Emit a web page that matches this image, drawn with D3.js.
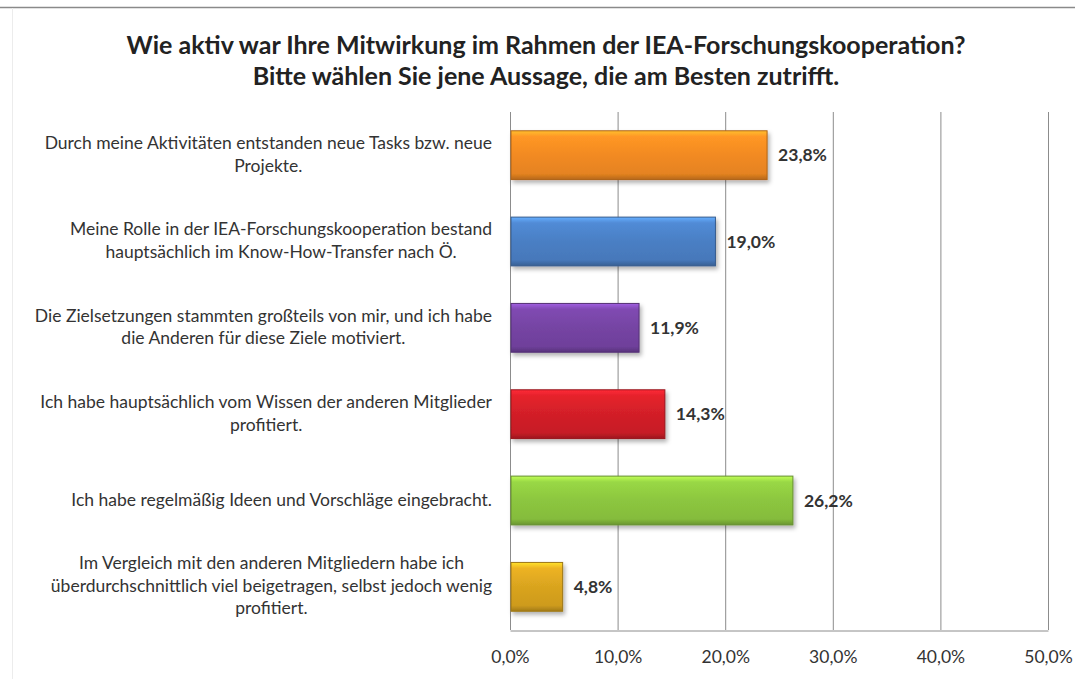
<!DOCTYPE html>
<html>
<head>
<meta charset="utf-8">
<script src="https://cdn.jsdelivr.net/npm/d3@7"></script>
<style>
  body { margin: 0; background: #fff; }
  text { font-family: Lato, "Open Sans", sans-serif; }
</style>
</head>
<body>
<div id="chart"></div>
<script>
const titleLines = [
  "Wie aktiv war Ihre Mitwirkung im Rahmen der IEA-Forschungskooperation?",
  "Bitte wählen Sie jene Aussage, die am Besten zutrifft."
];
const categories = [
  ["Durch meine Aktivitäten entstanden neue Tasks bzw. neue", "Projekte."],
  ["Meine Rolle in der IEA-Forschungskooperation bestand", "hauptsächlich im Know-How-Transfer nach Ö."],
  ["Die Zielsetzungen stammten großteils von mir, und ich habe", "die Anderen für diese Ziele motiviert."],
  ["Ich habe hauptsächlich vom Wissen der anderen Mitglieder", "profitiert."],
  ["Ich habe regelmäßig Ideen und Vorschläge eingebracht."],
  ["Im Vergleich mit den anderen Mitgliedern habe ich", "überdurchschnittlich viel beigetragen, selbst jedoch wenig", "profitiert."]
];
const values = [23.8, 19.0, 11.9, 14.3, 26.2, 4.8];
const colors = ["#f28a22", "#4a7fc4", "#7544a3", "#d21f28", "#8cc63f", "#d9a41f"];
const ticks = [0, 10, 20, 30, 40, 50];

const width = 1075, height = 679;
const margin = { top: 112, right: 27, bottom: 49, left: 510 };

const svg = d3.select("#chart").append("svg")
  .attr("width", width).attr("height", height);

const defs = svg.append("defs");
colors.forEach((c, i) => {
  const g = defs.append("linearGradient").attr("id", "grad" + i)
    .attr("x1", 0).attr("y1", 0).attr("x2", 0).attr("y2", 1);
  const base = d3.color(c);
  g.append("stop").attr("offset", "0%").attr("stop-color", base.brighter(0.9));
  g.append("stop").attr("offset", "12%").attr("stop-color", base.brighter(0.25));
  g.append("stop").attr("offset", "50%").attr("stop-color", base);
  g.append("stop").attr("offset", "88%").attr("stop-color", base.darker(0.15));
  g.append("stop").attr("offset", "100%").attr("stop-color", base.darker(0.8));
});
const shadow = defs.append("filter").attr("id", "shadow")
  .attr("x", "-10%").attr("y", "-20%").attr("width", "130%").attr("height", "160%");
shadow.append("feDropShadow").attr("dx", 2).attr("dy", 3).attr("stdDeviation", 2)
  .attr("flood-color", "#000").attr("flood-opacity", 0.3);

// top border and faint left edge
svg.append("line").attr("x1", 0).attr("x2", width).attr("y1", 7.5).attr("y2", 7.5)
  .attr("stroke", "#8a8a8a").attr("stroke-width", 1.5);
svg.append("line").attr("x1", 12.5).attr("x2", 12.5).attr("y1", 8).attr("y2", height)
  .attr("stroke", "#ececec").attr("stroke-width", 1);

// title
svg.append("g").selectAll("text").data(titleLines).join("text")
  .attr("x", 546).attr("y", (d, i) => 54 + i * 31)
  .attr("text-anchor", "middle")
  .attr("font-size", 25).attr("font-weight", "bold").attr("fill", "#222")
  .text(d => d);

const x = d3.scaleLinear().domain([0, 50]).range([margin.left, width - margin.right]);
const y = d3.scaleBand().domain(d3.range(categories.length))
  .range([margin.top, height - margin.bottom]).paddingInner(0.435).paddingOuter(0.2175);

// gridlines
svg.append("g").selectAll("line").data(ticks).join("line")
  .attr("x1", d => x(d) + 0.5).attr("x2", d => x(d) + 0.5)
  .attr("y1", margin.top).attr("y2", height - margin.bottom)
  .attr("stroke", "#8c8c8c").attr("stroke-width", 1);

// x axis
const xAxis = svg.append("g")
  .attr("transform", `translate(0,${height - margin.bottom + 0.5})`)
  .call(d3.axisBottom(x).tickValues(ticks).tickSize(0).tickPadding(20)
    .tickFormat(d => d.toFixed(1).replace(".", ",") + "%"));
xAxis.select(".domain").attr("stroke", "#8c8c8c");
xAxis.selectAll("text").attr("font-size", 17.5).attr("fill", "#333")
  .style("font-family", "Lato, 'Open Sans', sans-serif");

// bars
svg.append("g").selectAll("rect").data(values).join("rect")
  .attr("x", x(0) + 1)
  .attr("y", (d, i) => y(i))
  .attr("width", d => x(d) - x(0))
  .attr("height", y.bandwidth())
  .attr("fill", (d, i) => `url(#grad${i})`)
  .attr("stroke", (d, i) => d3.color(colors[i]).darker(0.9))
  .attr("stroke-width", 1)
  .attr("filter", "url(#shadow)");

// value labels
svg.append("g").selectAll("text").data(values).join("text")
  .attr("x", d => x(d) + 12)
  .attr("y", (d, i) => y(i) + y.bandwidth() / 2)
  .attr("dy", "0.35em")
  .attr("font-size", 17.5).attr("font-weight", "bold").attr("fill", "#333")
  .text(d => d.toFixed(1).replace(".", ",") + "%");

// category labels (centered block, right-aligned to the axis)
const lineH = 22.5;
const labels = svg.append("g");
categories.forEach((lines, i) => {
  const g = labels.append("g");
  const t = g.selectAll("text").data(lines).join("text")
    .attr("font-size", 17.5).attr("fill", "#333")
    .attr("text-anchor", "middle")
    .attr("dy", "0.35em")
    .text(d => d);
  let maxW = 0;
  t.each(function () { maxW = Math.max(maxW, this.getComputedTextLength()); });
  const cx = margin.left - 18 - maxW / 2;
  const cy = y(i) + y.bandwidth() / 2;
  t.attr("x", cx)
    .attr("y", (d, j) => cy + (j - (lines.length - 1) / 2) * lineH - 1);
});
</script>
</body>
</html>
